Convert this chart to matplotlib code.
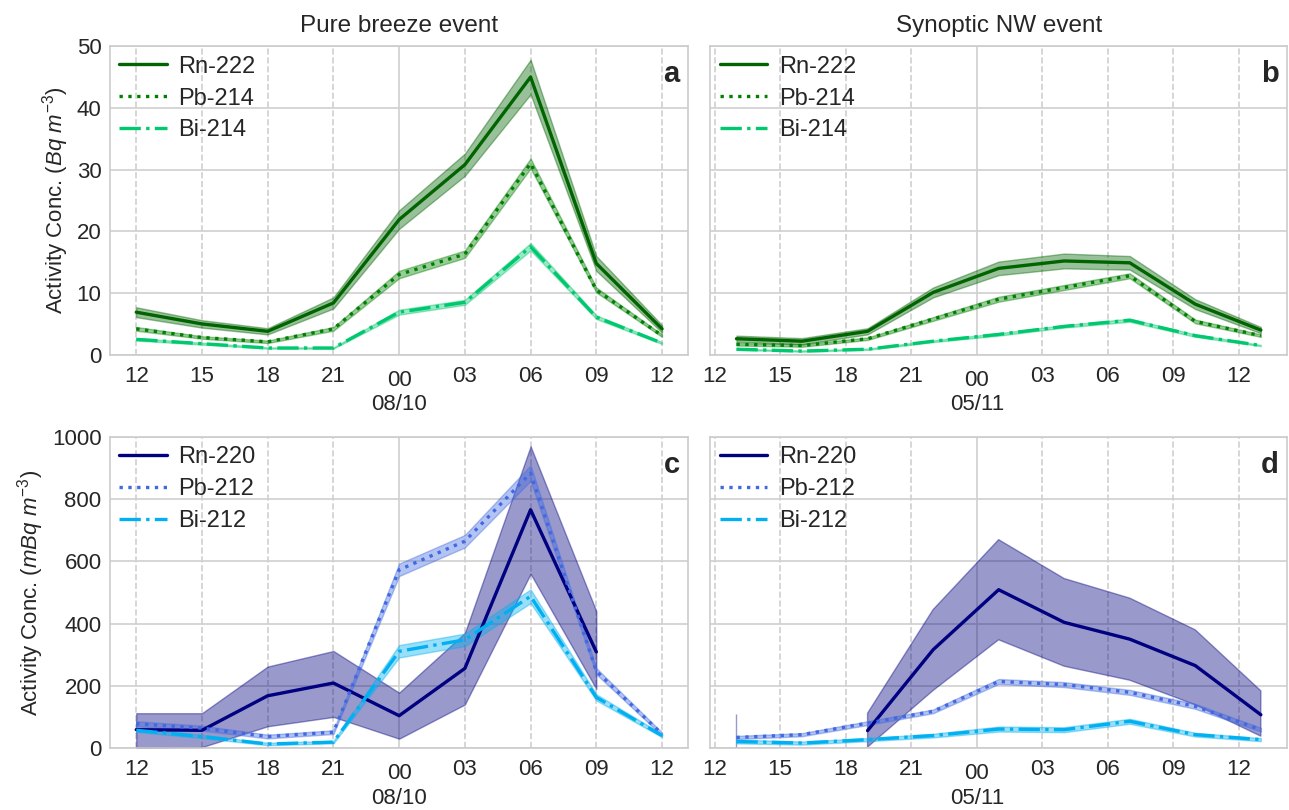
import numpy as np
import pandas as pd
import matplotlib
matplotlib.use('Agg')
import matplotlib.pyplot as plt
import matplotlib.dates as mdates
import seaborn as sns

nan = np.nan

# time axes
times_a = pd.date_range('2019-10-07 12:00', periods=9, freq='3h')
times_b = pd.date_range('2019-11-04 13:00', periods=9, freq='3h')

# Rn-222 family (Bq m-3)
rn222_a = [6.9, 5.0, 3.8, 8.4, 21.9, 30.8, 45.0, 14.8, 4.2]
rn222_a_err = [0.8, 0.6, 0.5, 0.9, 1.5, 1.8, 2.8, 1.2, 0.6]
pb214_a = [4.2, 2.8, 2.1, 4.2, 13.0, 16.3, 31.0, 10.5, 3.1]
pb214_a_err = [0.3, 0.2, 0.2, 0.3, 0.6, 0.6, 0.8, 0.4, 0.2]
bi214_a = [2.5, 1.8, 1.1, 1.1, 6.9, 8.5, 17.5, 6.1, 1.9]
bi214_a_err = [0.2, 0.15, 0.1, 0.1, 0.4, 0.4, 0.6, 0.3, 0.15]

rn222_b = [2.6, 2.2, 3.8, 10.1, 14.0, 15.2, 14.9, 8.2, 4.0]
rn222_b_err = [0.5, 0.5, 0.5, 0.8, 1.1, 1.2, 1.1, 0.8, 0.5]
pb214_b = [1.7, 1.5, 2.6, 5.8, 9.0, 10.9, 12.8, 5.4, 3.1]
pb214_b_err = [0.2, 0.2, 0.2, 0.3, 0.4, 0.4, 0.4, 0.3, 0.2]
bi214_b = [0.9, 0.6, 0.9, 2.2, 3.3, 4.6, 5.6, 3.1, 1.5]
bi214_b_err = [0.1, 0.1, 0.1, 0.15, 0.2, 0.2, 0.25, 0.2, 0.1]

# Rn-220 family (mBq m-3)
rn220_c = [59, 57, 168, 209, 104, 256, 766, 309, nan]
rn220_c_lo = [0, 3, 70, 100, 30, 140, 560, 190, nan]
rn220_c_hi = [112, 112, 262, 312, 178, 370, 970, 440, nan]
pb212_c = [78, 64, 37, 51, 573, 665, 884, 247, 45]
pb212_c_err = [8, 8, 6, 6, 20, 20, 25, 10, 5]
bi212_c = [57, 37, 13, 19, 311, 348, 488, 163, 40]
bi212_c_err = [5, 5, 4, 4, 20, 20, 22, 10, 5]

rn220_d = [55, nan, 56, 316, 509, 404, 350, 265, 107]
rn220_d_lo = [0, nan, 3, 185, 348, 263, 218, 139, 38]
rn220_d_hi = [110, nan, 112, 445, 670, 545, 482, 380, 184]
pb212_d = [34, 43, 80, 118, 214, 204, 179, 134, 59]
pb212_d_err = [5, 5, 6, 6, 8, 8, 8, 8, 6]
bi212_d = [21, 16, 27, 40, 61, 59, 86, 43, 27]
bi212_d_err = [6, 5, 5, 6, 8, 8, 8, 6, 5]

sns.set_style('whitegrid')
plt.rcParams['font.family'] = ['Liberation Sans', 'DejaVu Sans']
plt.rcParams['mathtext.fontset'] = 'custom'
plt.rcParams['mathtext.it'] = 'Liberation Sans:italic'
plt.rcParams['mathtext.rm'] = 'Liberation Sans'

fig = plt.figure(figsize=(12.89, 8.1), dpi=100)
ax_a = fig.add_axes([0.0853, 0.562, 0.4487, 0.381])
ax_b = fig.add_axes([0.551, 0.562, 0.4475, 0.381], sharey=ax_a)
ax_c = fig.add_axes([0.0853, 0.0765, 0.4487, 0.384])
ax_d = fig.add_axes([0.551, 0.0765, 0.4475, 0.384], sharey=ax_c)


def band(ax, t, y, lo, hi, color, ls, label, alpha):
    ax.fill_between(t, lo, hi, color=color, alpha=alpha)
    ax.plot(t, y, color=color, ls=ls, lw=2.4, label=label)


def panel(ax, t, series, letter):
    for y, lo, hi, color, ls, label, alpha in series:
        band(ax, t, y, lo, hi, color, ls, label, alpha)
    ax.xaxis.set_major_locator(mdates.DayLocator())
    ax.xaxis.set_major_formatter(mdates.DateFormatter('%H\n%d/%m'))
    ax.xaxis.set_minor_locator(mdates.HourLocator(byhour=range(0, 24, 3)))
    ax.xaxis.set_minor_formatter(mdates.DateFormatter('%H'))
    ax.tick_params(axis='x', which='major', labelsize=16, pad=11, length=0)
    ax.tick_params(axis='x', which='minor', labelsize=16, pad=8, length=0)
    ax.tick_params(axis='y', labelsize=16, length=0, pad=6)
    ax.grid(True, which='major', axis='x', ls='-', color='#d0d0d0', lw=1.2)
    ax.grid(True, which='minor', axis='x', ls='--', color='#d0d0d0', lw=1.2)
    ax.grid(True, which='major', axis='y', ls='-', color='#d0d0d0', lw=1.2)
    for s in ax.spines.values():
        s.set_color('#cccccc')
        s.set_linewidth(1.2)
    ax.legend(loc='upper left', frameon=False, fontsize=17, handlelength=2.0,
              handletextpad=0.5, labelspacing=0.42, borderaxespad=0.0)
    ax.text(0.985, 0.955, letter, transform=ax.transAxes, ha='right', va='top',
            fontsize=21, fontweight='bold', color='#262626')


def pm(y, e):
    y = np.array(y)
    e = np.array(e)
    return y - e, y + e


green_rn, green_pb, green_bi = '#006400', '#008000', '#00c86e'
blue_rn, blue_pb, blue_bi = '#000080', '#4169e1', '#00b0f0'

panel(ax_a, times_a, [
    (rn222_a, *pm(rn222_a, rn222_a_err), green_rn, '-', 'Rn-222', 0.4),
    (pb214_a, *pm(pb214_a, pb214_a_err), green_pb, ':', 'Pb-214', 0.4),
    (bi214_a, *pm(bi214_a, bi214_a_err), green_bi, '-.', 'Bi-214', 0.4),
], 'a')
panel(ax_b, times_b, [
    (rn222_b, *pm(rn222_b, rn222_b_err), green_rn, '-', 'Rn-222', 0.4),
    (pb214_b, *pm(pb214_b, pb214_b_err), green_pb, ':', 'Pb-214', 0.4),
    (bi214_b, *pm(bi214_b, bi214_b_err), green_bi, '-.', 'Bi-214', 0.4),
], 'b')
panel(ax_c, times_a, [
    (rn220_c, rn220_c_lo, rn220_c_hi, blue_rn, '-', 'Rn-220', 0.4),
    (pb212_c, *pm(pb212_c, pb212_c_err), blue_pb, ':', 'Pb-212', 0.4),
    (bi212_c, *pm(bi212_c, bi212_c_err), blue_bi, '-.', 'Bi-212', 0.4),
], 'c')
panel(ax_d, times_b, [
    (rn220_d, rn220_d_lo, rn220_d_hi, blue_rn, '-', 'Rn-220', 0.4),
    (pb212_d, *pm(pb212_d, pb212_d_err), blue_pb, ':', 'Pb-212', 0.4),
    (bi212_d, *pm(bi212_d, bi212_d_err), blue_bi, '-.', 'Bi-212', 0.4),
], 'd')

ax_a.set_ylim(0, 50)
ax_a.set_yticks(range(0, 51, 10))
ax_c.set_ylim(0, 1000)
ax_c.set_yticks(range(0, 1001, 200))
for ax in (ax_b, ax_d):
    ax.tick_params(axis='y', labelleft=False)

ax_a.set_ylabel('Activity Conc. ($Bq$ $m^{-3}$)', fontsize=16, color='#262626')
ax_c.set_ylabel('Activity Conc. ($mBq$ $m^{-3}$)', fontsize=16, color='#262626')
ax_a.set_title('Pure breeze event', fontsize=17.5, color='#262626', pad=10)
ax_b.set_title('Synoptic NW event', fontsize=17.5, color='#262626', pad=10)

fig.savefig('out.png', dpi=100)
